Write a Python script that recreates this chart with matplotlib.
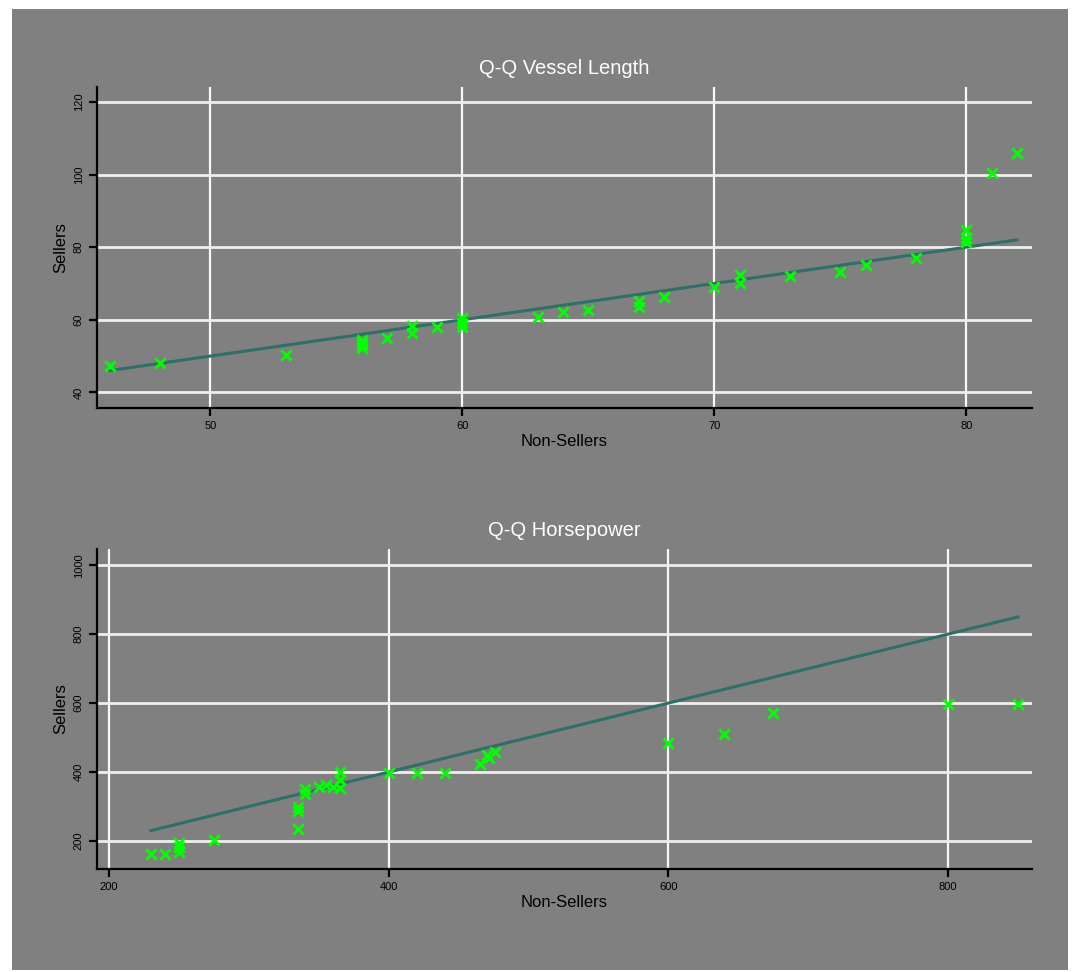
import matplotlib
matplotlib.use("Agg")
import matplotlib.pyplot as plt
from matplotlib.patches import Rectangle

plt.rcParams["font.family"] = ["Liberation Sans Narrow", "Liberation Sans", "DejaVu Sans"]

# Q-Q Vessel Length (non-sellers quantile vs sellers quantile)
vl_non_sellers = [46, 48, 53, 56, 56, 56, 56, 57, 58, 58, 59, 60, 60, 60, 63, 64,
                  65, 67, 67, 68, 70, 71, 71, 73, 75, 76, 78, 80, 80, 80, 81, 82]
vl_sellers = [47.3, 48.2, 50.3, 54.3, 53.6, 53.0, 52.2, 55.0, 58.3, 56.4, 57.9, 60.6,
              59.0, 58.0, 60.8, 62.0, 62.7, 65.2, 63.6, 66.4, 69.0, 72.2, 70.2, 72.0,
              73.1, 75.0, 77.0, 84.6, 82.5, 81.3, 100.3, 105.8]
vl_ref = [46, 82]
vl_xticks = [50, 60, 70, 80]
vl_yticks = [40, 60, 80, 100, 120]

# Q-Q Horsepower
hp_non_sellers = [230, 240, 250, 250, 250, 275, 335, 335, 335, 340, 340, 350, 355, 360,
                  365, 365, 365, 400, 420, 440, 465, 470, 472, 476, 600, 640, 675, 800, 850]
hp_sellers = [161, 161, 195, 182, 168, 203, 299, 286, 234, 352, 336, 357, 362, 357,
              400, 378, 355, 396, 396, 396, 422, 449, 440, 459, 484, 509, 570, 597, 597]
hp_ref = [230, 850]
hp_xticks = [200, 400, 600, 800]
hp_yticks = [200, 400, 600, 800, 1000]

GRAY = "#808080"
LINE = "#2e7068"
MARK = "#00ff00"

fig = plt.figure(figsize=(10.8, 9.72), dpi=100, facecolor="white")
fig.patches.append(Rectangle((12 / 1080, 1 - 970 / 972), 1056 / 1080, 961 / 972,
                             transform=fig.transFigure, facecolor=GRAY,
                             edgecolor="none", zorder=-1))


def qq_panel(ax, x, y, ref, xticks, yticks, xlim, ylim, title):
    ax.set_facecolor(GRAY)
    ax.set_xlim(*xlim)
    ax.set_ylim(*ylim)
    ax.set_xticks(xticks)
    ax.set_yticks(yticks)
    ax.grid(True, axis="x", color="#f8f8f8", linewidth=1.6)
    ax.grid(True, axis="y", color="#eeeeee", linewidth=2.0)
    ax.set_axisbelow(True)
    ax.plot(ref, ref, color=LINE, linewidth=2.2, zorder=2)
    ax.scatter(x, y, marker="x", color=MARK, s=55, linewidths=2, zorder=3)
    for side in ["top", "right"]:
        ax.spines[side].set_visible(False)
    for side in ["left", "bottom"]:
        ax.spines[side].set_linewidth(1.6)
        ax.spines[side].set_color("black")
    ax.tick_params(direction="out", length=6, width=1.6, labelsize=8, colors="black")
    for lab in ax.get_yticklabels():
        lab.set_rotation(90)
        lab.set_verticalalignment("center")
    ax.set_xlabel("Non-Sellers", fontsize=12, labelpad=2)
    ax.set_ylabel("Sellers", fontsize=12, labelpad=4)
    ax.set_title(title, color="white", fontsize=14.5, pad=9)


ax1 = fig.add_axes([97 / 1080, 1 - 408 / 972, 935 / 1080, 321 / 972])
qq_panel(ax1, vl_non_sellers, vl_sellers, vl_ref, vl_xticks, vl_yticks,
         (45.5, 82.6), (35.7, 124.1), "Q-Q Vessel Length")

ax2 = fig.add_axes([97 / 1080, 1 - 869 / 972, 935 / 1080, 320 / 972])
qq_panel(ax2, hp_non_sellers, hp_sellers, hp_ref, hp_xticks, hp_yticks,
         (191.4, 860), (118.6, 1047), "Q-Q Horsepower")

fig.savefig("out.png", dpi=100, facecolor="white")
